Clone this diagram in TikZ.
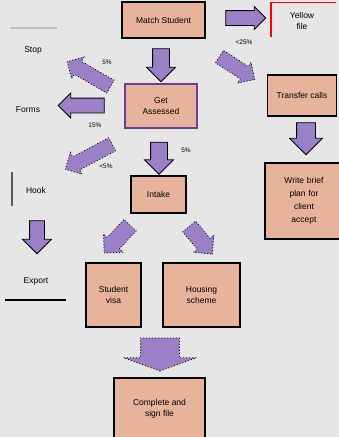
\documentclass[tikz,border=0pt]{standalone}
\usepackage{fontspec}
\setmainfont{Liberation Sans}
\usetikzlibrary{shapes.arrows}

\definecolor{boxfill}{HTML}{E8B39B}
\definecolor{arrowfill}{HTML}{9B80C8}
\definecolor{bggray}{HTML}{E6E6E6}
\definecolor{boxpurple}{HTML}{6A3D9A}

\tikzset{
  stepbox/.style={rectangle, fill=boxfill, draw=black, line width=1.3pt, align=center,
    font=\fontsize{8.5}{10.5}\selectfont, inner sep=2pt},
  flowarrow/.style n args={3}{single arrow, fill=arrowfill, draw=black, line width=0.8pt,
    inner xsep=0pt, inner ysep=#2, single arrow head extend=#3, minimum height=#1},
  dotarrow/.style={draw=black, dash pattern=on 0.6pt off 2.4pt, line cap=round},
  pct/.style={font=\fontsize{6.5}{7.5}\selectfont, inner sep=1pt},
  legend/.style={font=\fontsize{8.5}{10.5}\selectfont, inner sep=1pt}
}

\begin{document}
\begin{tikzpicture}[x=1pt,y=-1pt]
\useasboundingbox[fill=bggray] (0,0) rectangle (339,437);

% boxes
\node[stepbox, minimum width=83, minimum height=36](match) at (163.5,20) {Match Student};
\node[stepbox, draw=boxpurple, minimum width=72, minimum height=44](assess) at (161,106) {Get\\Assessed};
\node[stepbox, minimum width=55, minimum height=37](intake) at (158.5,194.5) {Intake};
\node[stepbox, minimum width=55, minimum height=64](visa) at (113.5,295) {Student\\visa};
\node[stepbox, minimum width=77, minimum height=64](housing) at (201.5,295) {Housing\\scheme};
\node[stepbox, minimum width=91, minimum height=62](complete) at (159.5,409) {Complete and\\sign file};
\node[stepbox, minimum width=69, minimum height=41](transfer) at (302,95.5) {Transfer calls};
\node[stepbox, font=\fontsize{8.5}{13}\selectfont, minimum width=78, minimum height=76,
  text width=66](brief) at (304,201) {Write brief\\plan for\\client\\accept};

% red file box
\draw[red, line width=1.2pt] (271,37) -- (271,2.5) -- (336,2.5);
\node[legend, align=center](file) at (302,21) {Yellow\\file};

% block arrows
\node[flowarrow={40}{7pt}{4pt}](a1) at (242,18) {};
\node[flowarrow={33}{8pt}{6pt}, rotate=-90](a2) at (161,61) {};
\node[flowarrow={50}{7pt}{5pt}, dotarrow, rotate=150](a3) at (92,76) {};
\node[flowarrow={46}{7pt}{5pt}, rotate=180](a4) at (85,105.5) {};
\node[flowarrow={53}{7pt}{5pt}, dotarrow, rotate=208](a5) at (92,155) {};
\node[flowarrow={32}{8pt}{6pt}, rotate=-90](a6) at (159,154) {};
\node[flowarrow={42}{7pt}{5pt}, dotarrow, rotate=-33](a7) at (234,66) {};
\node[flowarrow={38}{8pt}{5pt}, dotarrow, rotate=227](a8) at (120,236) {};
\node[flowarrow={36}{8pt}{5pt}, dotarrow, rotate=-50](a9) at (198,237) {};
\node[flowarrow={33}{19pt}{17pt}, single arrow tip angle=140, dotarrow, rotate=-90](a10) at (160,351) {};
\node[flowarrow={32}{9pt}{7pt}, rotate=-90](a11) at (306,134) {};
\node[flowarrow={33}{7pt}{7pt}, rotate=-90](a12) at (37,233.5) {};

% percentages
\node[pct](p1) at (107,62) {5\%};
\node[pct](p2) at (95,125) {15\%};
\node[pct](p3) at (106,166) {<5\%};
\node[pct](p4) at (186,150) {5\%};
\node[pct](p5) at (244,42) {<25\%};

% legend
\draw[black!25, line width=1.5pt] (10,28) -- (57,28);
\node[legend](stop) at (33,50) {Stop};
\node[legend](forms) at (28,110) {Forms};
\draw[black!65, line width=1.2pt] (12,172) -- (12,206);
\node[legend](hook) at (36,190) {Hook};
\node[legend](export) at (36,281) {Export};
\draw[black, line width=1.2pt] (5,300) -- (66,300);
\end{tikzpicture}
\end{document}
